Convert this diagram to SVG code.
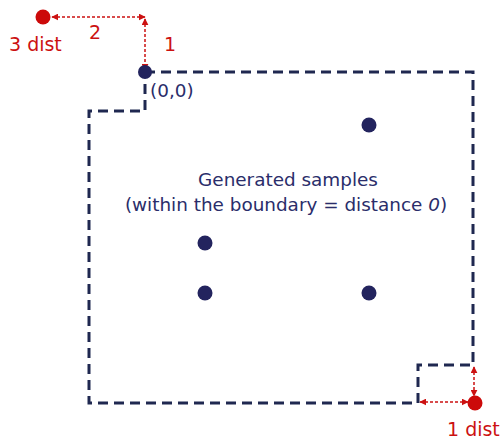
<svg xmlns="http://www.w3.org/2000/svg" width="502" height="442" viewBox="0 0 502 442">
<defs>
<marker id="ah" viewBox="0 0 10 10" refX="9" refY="5" markerWidth="7" markerHeight="7" orient="auto-start-reverse" markerUnits="userSpaceOnUse">
<path d="M0,0 L10,5 L0,10 z" fill="#cc1111"/>
</marker>
<style>
.bd{fill:none;stroke:#1f2850;stroke-width:3;stroke-dasharray:10 6}
.ar{fill:none;stroke:#cc1111;stroke-width:1.5;stroke-dasharray:3 2;marker-start:url(#ah);marker-end:url(#ah)}
.rd{fill:#cc0a0a}
.nv{fill:#23245e}
.rt{font-family:"DejaVu Sans","Liberation Sans",sans-serif;font-size:19px;fill:#cc1111}
.nt{font-family:"DejaVu Sans","Liberation Sans",sans-serif;font-size:18.4px;fill:#2a2d6a}
</style>
</defs>
<rect width="502" height="442" fill="#ffffff"/>
<g id="boundary">
<path class="bd" d="M145,72 H473 V365 H418 V403 H89 V111 H145 Z"/>
</g>
<g id="connectors">
<line class="ar" x1="52" y1="17" x2="145" y2="17"/>
<line class="ar" x1="145" y1="19" x2="145" y2="70"/>
<line class="ar" x1="474" y1="367" x2="474" y2="396"/>
<line class="ar" x1="420" y1="402" x2="468" y2="402"/>
</g>
<g id="origin">
<circle class="nv" cx="145" cy="72" r="7"/>
<text class="nt" x="150" y="97">(0,0)</text>
</g>
<g id="point3">
<circle class="rd" cx="43" cy="17" r="7.5"/>
<text class="rt" x="9" y="51">3 dist</text>
</g>
<g id="point1">
<circle class="rd" cx="475" cy="403" r="7.5"/>
<text class="rt" x="447" y="436">1 dist</text>
</g>
<g id="labels">
<text class="rt" x="89" y="39">2</text>
<text class="rt" x="164" y="51">1</text>
</g>
<g id="samples">
<circle class="nv" cx="369" cy="125" r="7.5"/>
<circle class="nv" cx="205" cy="243" r="7.5"/>
<circle class="nv" cx="205" cy="293" r="7.5"/>
<circle class="nv" cx="369" cy="293" r="7.5"/>
<text class="nt" x="288" y="186" text-anchor="middle">Generated samples</text>
<text class="nt" x="286" y="211" text-anchor="middle">(within the boundary = distance <tspan font-style="italic">0</tspan>)</text>
</g>
</svg>
